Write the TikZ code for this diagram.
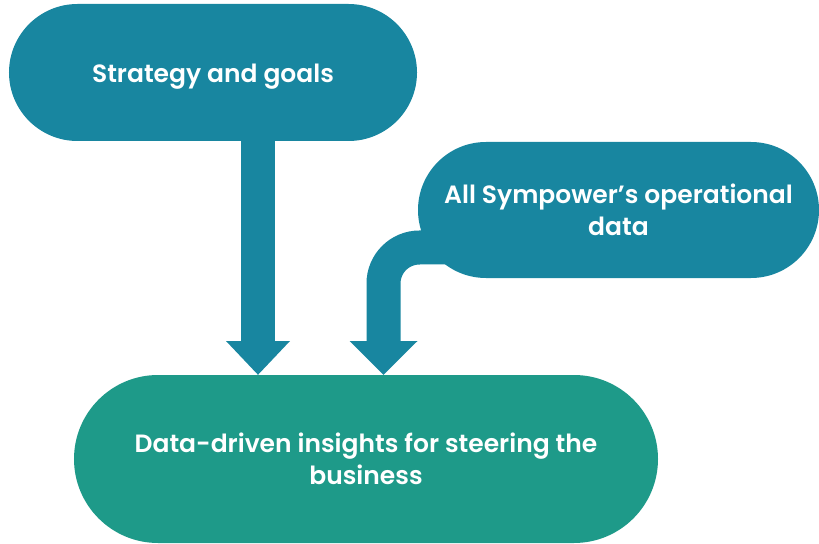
\documentclass[tikz,border=0pt]{standalone}
\usepackage{fontspec}
\setmainfont{Poppins}[BoldFont={Poppins SemiBold}]
\usetikzlibrary{backgrounds}
\definecolor{boxblue}{RGB}{24,134,160}
\definecolor{boxgreen}{RGB}{30,154,137}
\tikzset{
  pill/.style={fill=#1, text=white, align=center, inner sep=0pt,
    font=\bfseries\fontsize{25bp}{32.5bp}\selectfont},
  stem/.style={line width=34bp, draw=boxblue, line cap=butt},
  headfill/.style={fill=boxblue}
}
\begin{document}
\begin{tikzpicture}[x=1bp,y=-1bp]
\useasboundingbox (0,0) rectangle (819,544);
% nodes
\node[pill=boxblue, minimum width=408bp, minimum height=137bp, rounded corners=68.5bp] (top) at (213,72.5) {\raisebox{-4bp}[\height][\depth]{Strategy and goals}};
\node[pill=boxblue, minimum width=401bp, minimum height=136bp, rounded corners=68bp] (right) at (618.5,210) {All Sympower’s operational\\data};
\node[pill=boxgreen, minimum width=584bp, minimum height=168bp, rounded corners=84bp] (bot) at (366,459) {Data-driven insights for steering the\\business};
% coordinates
\coordinate (a1h) at (258,341);
\coordinate (a1t) at (bot.north -| a1h);
\coordinate (a2c) at (383.5,247.5);
\coordinate (a2h) at (383.5,341);
\coordinate (a2t) at (bot.north -| a2h);
% arrow 1
\draw[stem] (top.south -| a1h) -- (a1h);
\fill[headfill] ([xshift=-32bp]a1h) -- ([xshift=32bp]a1h) -- (a1t) -- cycle;
% arrow 2
\begin{scope}[on background layer]
\draw[stem, rounded corners=36bp] (right.center |- a2c) -- (a2c) -- (a2h);
\end{scope}
\fill[headfill] ([xshift=-34bp]a2h) -- ([xshift=34bp]a2h) -- (a2t) -- cycle;
\end{tikzpicture}
\end{document}
